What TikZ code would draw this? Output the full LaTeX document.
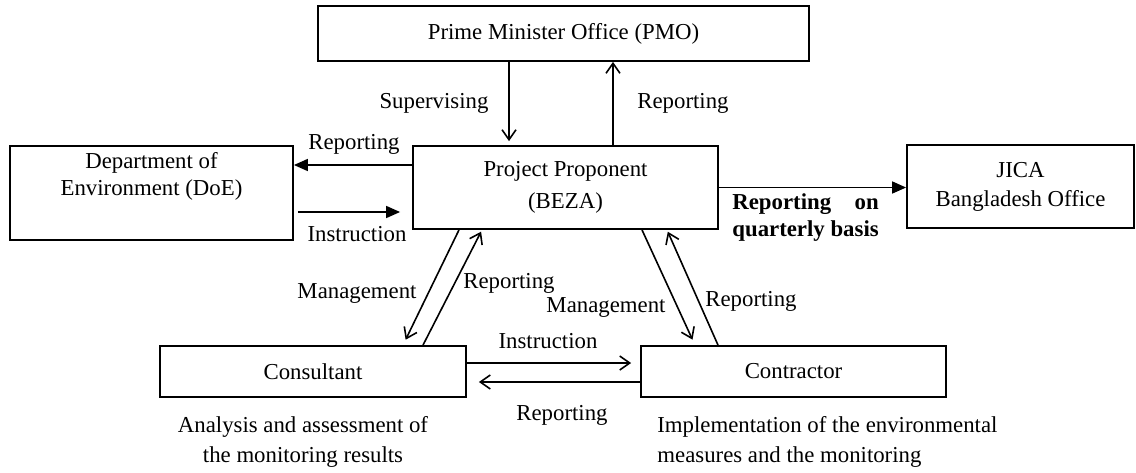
\documentclass[tikz,border=0pt]{standalone}
\usepackage{fontspec}
\setmainfont{Liberation Serif}
\usetikzlibrary{arrows.meta}

\begin{document}
\begin{tikzpicture}[x=0.5pt,y=-0.5pt,
  font=\fontsize{11.4}{14}\selectfont,
  box/.style={draw,line width=0.9pt,inner sep=0pt,align=center},
  lbl/.style={inner sep=0pt},
  conn/.style={line width=0.8pt,-{Straight Barb[length=5pt,width=7pt,line width=0.8pt]}},
  fconn/.style={line width=0.8pt,-{Triangle[length=7pt,width=6pt]}}]
\useasboundingbox (0,0) rectangle (1136,472);
\node[box,minimum width=245.5pt,minimum height=27.5pt] (pmo) at (563.5,33.5) {Prime Minister Office (PMO)};
\node[box,minimum width=141.5pt,minimum height=47pt] (doe) at (151.5,193) {};
\node[lbl,align=center,font=\fontsize{11.4}{13.5}\selectfont] (doetext) at ([yshift=-15.75pt]doe.north) {Department of\\Environment (DoE)};
\node[box,minimum width=152.5pt,minimum height=41.5pt,font=\fontsize{11.4}{16}\selectfont] (beza) at (565.5,187.5) {Project Proponent\\(BEZA)};
\node[box,minimum width=113.5pt,minimum height=41.5pt,font=\fontsize{11.4}{14.5}\selectfont] (jica) at (1020.5,186.5) {JICA\\Bangladesh Office};
\node[box,minimum width=153pt,minimum height=25.5pt] (cons) at (313,371.5) {Consultant};
\node[box,minimum width=152.5pt,minimum height=25.5pt] (contr) at (793.5,371.5) {Contractor};

\draw[conn,shorten >=2pt] ([xshift=-27.25pt]pmo.south) -- ([xshift=-27.25pt]pmo.south |- beza.north);
\draw[conn] ([xshift=23.75pt]beza.north) -- ([xshift=23.75pt]beza.north |- pmo.south);
\draw[fconn] ([yshift=11.25pt]beza.west) -- ([yshift=11.25pt]beza.west -| doe.east);
\draw[fconn,shorten <=2pt,shorten >=6pt] ([yshift=-12.25pt]beza.west -| doe.east) -- ([yshift=-12.25pt]beza.west);
\draw[fconn] (beza.east) -- (beza.east -| jica.west);
\draw[conn,shorten >=3pt] ([xshift=-53.25pt]beza.south) -- ([xshift=45pt]cons.north);
\draw[conn,shorten >=1pt] ([xshift=55pt]cons.north) -- ([xshift=-41.75pt]beza.south);
\draw[conn,shorten >=3pt] ([xshift=38.25pt]beza.south) -- ([xshift=-49.25pt]contr.north);
\draw[conn,shorten >=1pt] ([xshift=-37.75pt]contr.north) -- ([xshift=50.75pt]beza.south);
\draw[conn,shorten >=4.5pt] ([yshift=4.25pt]cons.east) -- ([yshift=4.25pt]cons.east -| contr.west);
\draw[conn,shorten >=6pt] ([yshift=-5.25pt]contr.west) -- ([yshift=-5.25pt]contr.west -| cons.east);

\node[lbl] (supv) at (434,103) {Supervising};
\node[lbl] (reppmo) at (683,103) {Reporting};
\node[lbl] (repdoe) at (354,144) {Reporting};
\node[lbl] (instdoe) at (357,234) {Instruction};
\node[lbl] (mgmtl) at (357,293) {Management};
\node[lbl] (repl) at (509,283) {Reporting};
\node[lbl] (mgmtr) at (606,307) {Management};
\node[lbl] (repr) at (751,301) {Reporting};
\node[lbl] (instb) at (548,341) {Instruction};
\node[lbl] (repb) at (562,415) {Reporting};
\node[lbl,anchor=west,align=left,font=\bfseries\fontsize{11.4}{13.5}\selectfont] (repjica) at (732,217.5) {\setbox0\hbox{quarterly basis}\hbox to \wd0{Reporting\hfill on}\\quarterly basis};
\node[lbl,align=center,font=\fontsize{11.4}{15}\selectfont] (conscap) at (303,442) {Analysis and assessment of\\the monitoring results};
\node[lbl,anchor=west,align=left,font=\fontsize{11.4}{15}\selectfont] (contrcap) at (657,442) {Implementation of the environmental\\measures and the monitoring};
\end{tikzpicture}
\end{document}
